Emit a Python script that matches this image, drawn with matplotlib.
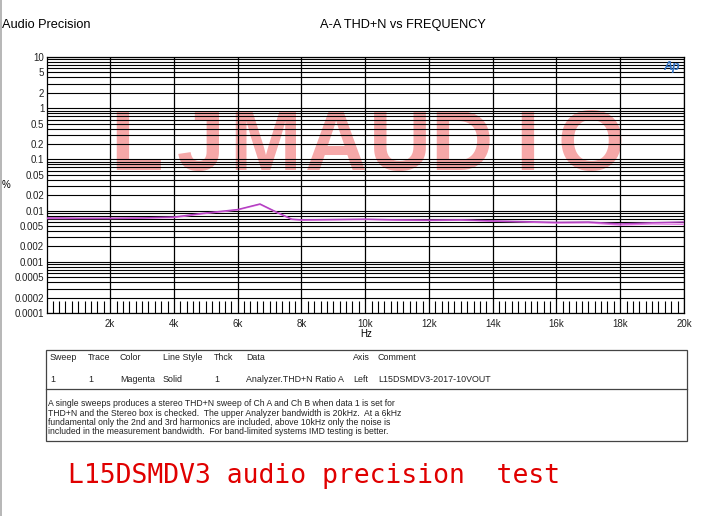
import numpy as np
import matplotlib
matplotlib.use("Agg")
import matplotlib.pyplot as plt
from matplotlib.ticker import FixedLocator, NullFormatter

plt.rcParams['font.family'] = ['Liberation Sans', 'DejaVu Sans']

# THD+N sweep data (Hz, %)
freq = [20, 500, 1000, 2000, 3000, 4000, 5000, 6000, 6700, 7200, 7700, 8000, 9000,
        10000, 11000, 12000, 13000, 14000, 15000, 16000, 17000, 18000, 19000, 20000]
thd_ch_a = [0.0072, 0.0072, 0.0071, 0.0071, 0.0072, 0.0075, 0.0090, 0.0105, 0.0135, 0.0095,
            0.0068, 0.0066, 0.0067, 0.0068, 0.0066, 0.0065, 0.0066, 0.0063, 0.0061, 0.0059,
            0.0060, 0.0055, 0.0058, 0.0060]
thd_ch_b = [0.0070, 0.0070, 0.0070, 0.0070, 0.0071, 0.0073, 0.0088, 0.0103, 0.0132, 0.0093,
            0.0067, 0.0065, 0.0066, 0.0067, 0.0065, 0.0064, 0.0065, 0.0062, 0.0060, 0.0057,
            0.0058, 0.0052, 0.0055, 0.0054]

y_ticks = [10, 5, 2, 1, 0.5, 0.2, 0.1, 0.05, 0.02, 0.01, 0.005, 0.002, 0.001, 0.0005, 0.0002, 0.0001]
y_labels = ['10', '5', '2', '1', '0.5', '0.2', '0.1', '0.05', '0.02', '0.01', '0.005',
            '0.002', '0.001', '0.0005', '0.0002', '0.0001']
x_ticks = [2000, 4000, 6000, 8000, 10000, 12000, 14000, 16000, 18000, 20000]
x_labels = ['2k', '4k', '6k', '8k', '10k', '12k', '14k', '16k', '18k', '20k']

table_header = ['Sweep', 'Trace', 'Color', 'Line Style', 'Thck', 'Data', 'Axis', 'Comment']
table_row = ['1', '1', 'Magenta', 'Solid', '1', 'Analyzer.THD+N Ratio A', 'Left', 'L15DSMDV3-2017-10VOUT']
note_lines = [
    "A single sweeps produces a stereo THD+N sweep of Ch A and Ch B when data 1 is set for",
    "THD+N and the Stereo box is checked.  The upper Analyzer bandwidth is 20kHz.  At a 6kHz",
    "fundamental only the 2nd and 3rd harmonics are included, above 10kHz only the noise is",
    "included in the measurement bandwidth.  For band-limited systems IMD testing is better.",
]

W, H = 701, 516
fig = plt.figure(figsize=(W / 100, H / 100), dpi=100)


def fx(px):
    return px / W


def fy(py):
    return 1 - py / H


ax = fig.add_axes([fx(47), fy(313), fx(684) - fx(47), fy(57) - fy(313)])
ax.set_yscale('log')
ax.set_xlim(20, 20000)
ax.set_ylim(0.0001, 10)

# grid: every log minor step, every 2k vertical
minor_y = [m * 10.0 ** e for e in range(-4, 1) for m in range(1, 10)] + [10]
ax.yaxis.set_major_locator(FixedLocator(y_ticks))
ax.set_yticklabels(y_labels)
ax.yaxis.set_minor_locator(FixedLocator(minor_y))
ax.yaxis.set_minor_formatter(NullFormatter())
ax.grid(True, which='minor', axis='y', color='black', linewidth=0.8)
ax.grid(True, which='major', axis='y', color='black', linewidth=0.8)
ax.set_xticks(x_ticks)
ax.set_xticklabels(x_labels)
ax.set_xticks(np.arange(200, 20000, 200), minor=True)
ax.grid(True, which='major', axis='x', color='black', linewidth=0.9)
ax.tick_params(axis='y', which='both', length=0, labelsize=7, pad=2, labelcolor='#222222')
ax.tick_params(axis='x', which='major', length=0, labelsize=7, pad=4, labelcolor='#222222')
ax.tick_params(axis='x', which='minor', direction='in', length=9, width=0.8, color='black')
for s in ax.spines.values():
    s.set_linewidth(0.9)

ax.plot(freq, thd_ch_b, color='#e878e8', linewidth=1.0, zorder=3)
ax.plot(freq, thd_ch_a, color='#b040c0', linewidth=1.0, zorder=3)

# watermark behind the grid
for ch, cx in zip("LJMAUDIO", [137, 201, 265, 336, 400, 461, 527, 591]):
    ax.text(fx(cx), fy(170), ch, transform=fig.transFigure, ha='center', va='baseline',
            fontsize=62, fontweight='bold', color='#f6a8a8', zorder=0.5)

ax.text(fx(672), fy(67), 'Ap', transform=fig.transFigure, ha='center', va='center',
        fontsize=9, style='italic', fontweight='bold', color='#3070c0', zorder=4)

fig.text(fx(2), fy(25), 'Audio Precision', fontsize=9.2, va='center', ha='left')
fig.text(fx(403), fy(25), 'A-A THD+N vs FREQUENCY', fontsize=9.2, va='center', ha='center')
fig.text(fx(6), fy(185), '%', fontsize=7, va='center', ha='center')
fig.text(fx(366), fy(334), 'Hz', fontsize=7, va='center', ha='center')

# left border of the page
fig.add_artist(plt.Line2D([fx(1), fx(1)], [0, 1], color='#aaaaaa', linewidth=1.2))

# legend table
L, R, T, B, SEP = 46, 687, 350, 441, 389
fig.add_artist(plt.Rectangle((fx(L), fy(B)), fx(R) - fx(L), fy(T) - fy(B),
                             fill=False, edgecolor='#444444', linewidth=0.9))
fig.add_artist(plt.Line2D([fx(L), fx(R)], [fy(SEP), fy(SEP)], color='#444444', linewidth=0.9))
col_x = [50, 88, 120, 163, 214, 246, 353, 378]
for cx, h, r in zip(col_x, table_header, table_row):
    fig.text(fx(cx), fy(358), h, fontsize=6.4, va='center', ha='left', color='#222222')
    fig.text(fx(cx), fy(379), r, fontsize=6.4, va='center', ha='left', color='#222222')
for i, line in enumerate(note_lines):
    fig.text(fx(48), fy(404 + i * 9.2), line, fontsize=6.2, va='center', ha='left', color='#222222')

fig.text(fx(68), fy(476), 'L15DSMDV3 audio precision  test', fontsize=19, va='center', ha='left',
         color='#e00000', family='DejaVu Sans Mono')

fig.savefig('out.png', dpi=100)
